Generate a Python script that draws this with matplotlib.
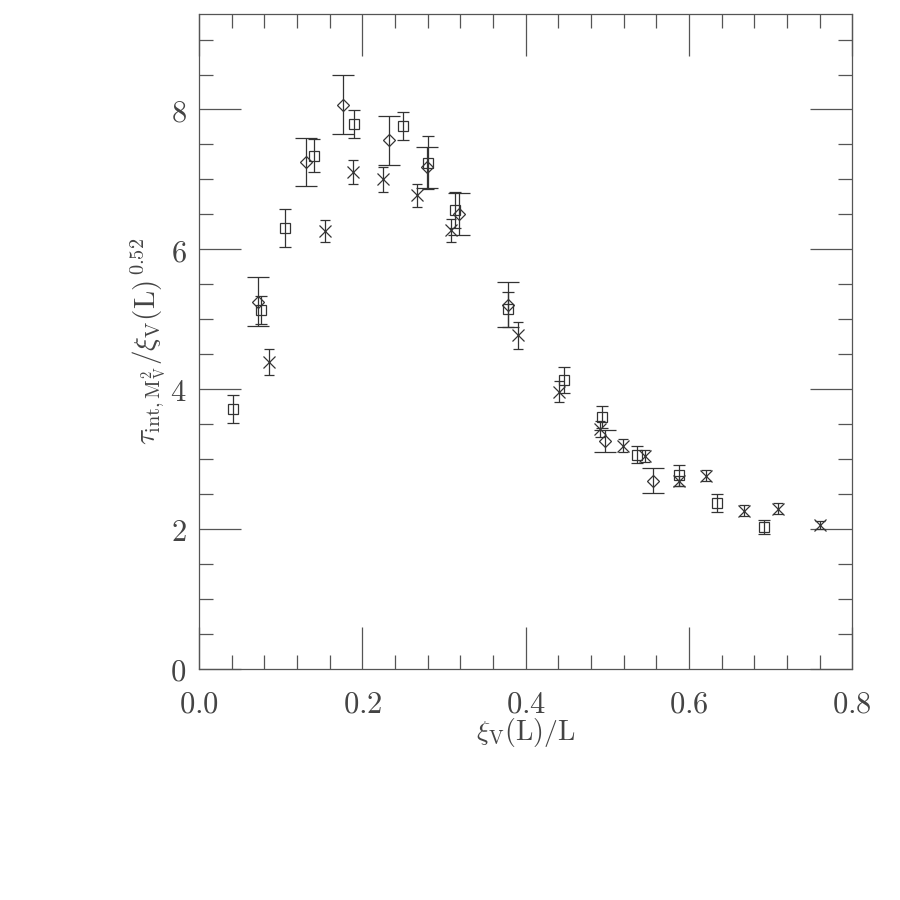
import numpy as np
import matplotlib
matplotlib.use('Agg')
import matplotlib.pyplot as plt
from matplotlib.ticker import MultipleLocator, FuncFormatter

# Data (x = xi_V(L)/L, y = tau / xi^0.52, err = half bar)
sq_x = [0.042, 0.076, 0.106, 0.141, 0.190, 0.250, 0.280, 0.314, 0.378, 0.447, 0.494, 0.537, 0.588, 0.634, 0.692]
sq_y = [3.71, 5.13, 6.30, 7.34, 7.79, 7.76, 7.24, 6.56, 5.14, 4.13, 3.60, 3.06, 2.77, 2.37, 2.03]
sq_e = [0.20, 0.20, 0.27, 0.24, 0.20, 0.20, 0.38, 0.26, 0.25, 0.19, 0.16, 0.12, 0.15, 0.13, 0.10]

di_x = [0.072, 0.131, 0.177, 0.233, 0.279, 0.318, 0.378, 0.497, 0.556]
di_y = [5.25, 7.25, 8.07, 7.56, 7.17, 6.51, 5.21, 3.26, 2.69]
di_e = [0.35, 0.34, 0.42, 0.35, 0.29, 0.30, 0.32, 0.16, 0.18]

cr_x = [0.086, 0.155, 0.189, 0.225, 0.267, 0.309, 0.391, 0.441, 0.491, 0.519, 0.546, 0.588, 0.621, 0.667, 0.709, 0.761]
cr_y = [4.39, 6.26, 7.11, 7.00, 6.77, 6.27, 4.77, 3.96, 3.43, 3.19, 3.04, 2.69, 2.76, 2.26, 2.29, 2.06]
cr_e = [0.19, 0.16, 0.17, 0.18, 0.17, 0.17, 0.19, 0.15, 0.12, 0.09, 0.09, 0.07, 0.08, 0.08, 0.08, 0.06]


def main():
    plt.rcParams['mathtext.fontset'] = 'cm'
    plt.rcParams['font.family'] = 'serif'

    fig = plt.figure(figsize=(9, 9), dpi=100)
    ax = fig.add_axes([0.221, 0.257, 0.726, 0.727])

    col = '#333333'
    # Error bars and markers for the three series.
    ax.errorbar(sq_x, sq_y, yerr=sq_e, fmt='s', ms=7.5, mfc='none', mec=col, mew=0.9,
                ecolor=col, elinewidth=0.9, capsize=4, capthick=0.9)
    ax.errorbar(di_x, di_y, yerr=di_e, fmt='D', ms=6.5, mfc='none', mec=col, mew=0.9,
                ecolor=col, elinewidth=0.9, capsize=8, capthick=0.9)
    ax.errorbar(cr_x, cr_y, yerr=cr_e, fmt='x', ms=8, mec=col, mew=0.9,
                ecolor=col, elinewidth=0.9, capsize=3.8, capthick=0.9)

    ax.set_xlim(0.0, 0.8)
    ax.set_ylim(0.0, 9.36)
    ax.xaxis.set_major_locator(MultipleLocator(0.2))
    ax.xaxis.set_minor_locator(MultipleLocator(0.04))
    ax.yaxis.set_major_locator(MultipleLocator(2))
    ax.yaxis.set_minor_locator(MultipleLocator(0.5))
    ax.xaxis.set_major_formatter(FuncFormatter(lambda v, p: r'$%.1f$' % v))
    ax.yaxis.set_major_formatter(FuncFormatter(lambda v, p: r'$%d$' % round(v)))

    ax.tick_params(which='both', direction='in', top=True, right=True, color='#555555',
                   width=0.9, labelsize=22, labelcolor='#444444')
    ax.tick_params(which='major', length=30)
    ax.tick_params(which='minor', length=10)
    ax.tick_params(axis='x', which='major', pad=14)
    ax.tick_params(axis='y', which='major', pad=9)
    for s in ax.spines.values():
        s.set_color('#555555')
        s.set_linewidth(0.9)

    ax.set_xlabel(r'$\xi_{\mathrm{V}}(\mathrm{L})/\mathrm{L}$', fontsize=20, color='#444444', labelpad=-2)
    ax.set_ylabel(r'$\tau_{\mathrm{int},\mathrm{M}_{\mathrm{V}}^{2}}/\xi_{\mathrm{V}}(\mathrm{L})^{\,0.52}$',
                  fontsize=21, color='#444444', labelpad=2)

    fig.savefig('out.png', dpi=100)


if __name__ == '__main__':
    main()
